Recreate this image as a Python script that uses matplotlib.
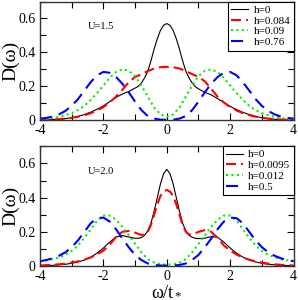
import matplotlib
matplotlib.use("Agg")
import matplotlib.pyplot as plt
import numpy as np
from matplotlib.ticker import MultipleLocator

plt.rcParams['font.family'] = ['Liberation Serif', 'DejaVu Serif']
plt.rcParams['mathtext.fontset'] = 'custom'
plt.rcParams['mathtext.rm'] = 'Liberation Serif'
plt.rcParams['mathtext.it'] = 'Liberation Serif'

# Data: omega grid from -4 to 4, step 0.2
omega = [-4.0, -3.8, -3.6, -3.4, -3.2, -3.0, -2.8, -2.6, -2.4, -2.2, -2.0,
         -1.8, -1.6, -1.4, -1.2, -1.0, -0.8, -0.6, -0.4, -0.2, 0.0,
         0.2, 0.4, 0.6, 0.8, 1.0, 1.2, 1.4, 1.6, 1.8, 2.0,
         2.2, 2.4, 2.6, 2.8, 3.0, 3.2, 3.4, 3.6, 3.8, 4.0]
# finer grid around the central peak (step 0.1 between -1 and 1)
omega_fine = [-4.0, -3.8, -3.6, -3.4, -3.2, -3.0, -2.8, -2.6, -2.4, -2.2, -2.0,
              -1.8, -1.6, -1.4, -1.2, -1.0, -0.9, -0.8, -0.7, -0.6, -0.5,
              -0.4, -0.3, -0.2, -0.1, 0.0, 0.1, 0.2, 0.3, 0.4, 0.5,
              0.6, 0.7, 0.8, 0.9, 1.0, 1.2, 1.4, 1.6, 1.8, 2.0,
              2.2, 2.4, 2.6, 2.8, 3.0, 3.2, 3.4, 3.6, 3.8, 4.0]

# U = 1.5
top_labels = ["h=0", "h=0.084", "h=0.09", "h=0.76"]
top_h0 = [0.001, 0.002, 0.004, 0.006, 0.010, 0.015, 0.023, 0.034, 0.048, 0.065, 0.085,
          0.110, 0.135, 0.155, 0.170, 0.190, 0.200, 0.220, 0.250, 0.290, 0.350,
          0.420, 0.480, 0.530, 0.560, 0.570, 0.560, 0.530, 0.480, 0.420, 0.350,
          0.290, 0.250, 0.220, 0.198, 0.185, 0.165, 0.150, 0.128, 0.105, 0.082,
          0.063, 0.047, 0.034, 0.023, 0.015, 0.010, 0.006, 0.004, 0.002, 0.001]
top_h084 = [0.002, 0.003, 0.005, 0.007, 0.010, 0.015, 0.021, 0.030, 0.042, 0.058, 0.078,
            0.105, 0.140, 0.180, 0.225, 0.255, 0.272, 0.290, 0.305, 0.313, 0.315,
            0.313, 0.305, 0.290, 0.272, 0.255, 0.230, 0.185, 0.140, 0.105, 0.078,
            0.058, 0.042, 0.030, 0.021, 0.015, 0.010, 0.007, 0.005, 0.003, 0.002]
top_h09 = [0.006, 0.009, 0.014, 0.020, 0.030, 0.042, 0.060, 0.085, 0.120, 0.160, 0.205,
           0.250, 0.285, 0.300, 0.292, 0.260, 0.205, 0.140, 0.075, 0.035, 0.020,
           0.035, 0.075, 0.140, 0.205, 0.260, 0.292, 0.300, 0.285, 0.250, 0.205,
           0.160, 0.120, 0.085, 0.060, 0.042, 0.030, 0.020, 0.014, 0.009, 0.006]
top_h76 = [0.010, 0.014, 0.022, 0.035, 0.055, 0.085, 0.125, 0.175, 0.225, 0.265, 0.285,
           0.280, 0.255, 0.215, 0.165, 0.110, 0.060, 0.025, 0.010, 0.004, 0.003,
           0.004, 0.010, 0.025, 0.060, 0.110, 0.165, 0.215, 0.255, 0.280, 0.285,
           0.265, 0.225, 0.175, 0.125, 0.085, 0.055, 0.035, 0.022, 0.014, 0.010]

# U = 2.0
bot_labels = ["h=0", "h=0.0095", "h=0.012", "h=0.5"]
bot_h0 = [0.002, 0.003, 0.004, 0.007, 0.010, 0.016, 0.024, 0.035, 0.052, 0.075, 0.105,
          0.140, 0.170, 0.178, 0.170, 0.162, 0.162, 0.166, 0.180, 0.205, 0.250,
          0.320, 0.400, 0.480, 0.540, 0.565, 0.540, 0.480, 0.400, 0.320, 0.250,
          0.205, 0.180, 0.168, 0.162, 0.160, 0.163, 0.172, 0.168, 0.140, 0.105,
          0.075, 0.052, 0.035, 0.024, 0.016, 0.010, 0.007, 0.004, 0.003, 0.002]
bot_h0095 = [0.003, 0.005, 0.007, 0.010, 0.014, 0.020, 0.027, 0.037, 0.050, 0.067, 0.090,
             0.125, 0.170, 0.200, 0.205, 0.195, 0.188, 0.182, 0.184, 0.200, 0.240,
             0.300, 0.360, 0.410, 0.435, 0.445, 0.435, 0.410, 0.360, 0.300, 0.240,
             0.200, 0.185, 0.185, 0.192, 0.200, 0.210, 0.200, 0.165, 0.120, 0.090,
             0.067, 0.050, 0.037, 0.027, 0.020, 0.014, 0.010, 0.007, 0.005, 0.003]
bot_h012 = [0.028, 0.033, 0.040, 0.050, 0.065, 0.088, 0.120, 0.165, 0.215, 0.265, 0.295,
            0.295, 0.270, 0.230, 0.180, 0.130, 0.080, 0.040, 0.020, 0.010, 0.008,
            0.010, 0.020, 0.040, 0.080, 0.130, 0.180, 0.230, 0.270, 0.295, 0.295,
            0.265, 0.215, 0.165, 0.120, 0.088, 0.065, 0.050, 0.040, 0.033, 0.028]
bot_h5 = [0.028, 0.035, 0.045, 0.060, 0.080, 0.110, 0.150, 0.200, 0.250, 0.280, 0.283,
          0.260, 0.215, 0.160, 0.110, 0.065, 0.035, 0.015, 0.006, 0.003, 0.002,
          0.003, 0.006, 0.015, 0.035, 0.065, 0.110, 0.160, 0.215, 0.260, 0.283,
          0.280, 0.250, 0.200, 0.150, 0.110, 0.080, 0.060, 0.045, 0.035, 0.028]

# line styles: solid black, red dashed, green dotted, blue long dashes
styles = [
    dict(color='black', lw=0.8, linestyle='-'),
    dict(color='#ff0000', lw=1.5, linestyle=(0, (4.8, 2.4))),
    dict(color='#00ee00', lw=1.5, linestyle=(0, (1.0, 1.6))),
    dict(color='#0000ff', lw=1.5, linestyle=(0, (5.8, 3.4))),
]


def style_axes(ax):
    ax.set_xlim(-4, 4)
    ax.set_ylim(0, 0.7)
    ax.xaxis.set_major_locator(MultipleLocator(2))
    ax.xaxis.set_minor_locator(MultipleLocator(1))
    ax.yaxis.set_major_locator(MultipleLocator(0.2))
    ax.yaxis.set_minor_locator(MultipleLocator(0.1))
    ax.set_xticks([-4, -2, 0, 2, 4])
    ax.set_xticklabels(["-4", "-2", "0", "2", "4"])
    ax.set_yticks([0, 0.2, 0.4, 0.6])
    ax.set_yticklabels(["0", "0.2", "0.4", "0.6"])
    ax.tick_params(which='both', direction='in', top=True, right=True,
                   labelsize=10, pad=3, width=0.8)
    ax.tick_params(which='major', length=5)
    ax.tick_params(which='minor', length=4)
    for s in ax.spines.values():
        s.set_linewidth(1.0)
        s.set_color('#333333')
    ax.set_ylabel("D(ω)", fontsize=14)
    ax.yaxis.set_label_coords(-0.08, 0.5)


fig = plt.figure(figsize=(2.98, 3.0), dpi=100)
ax1 = fig.add_axes([0.1342, 0.599, 0.851, 0.396])
ax2 = fig.add_axes([0.1342, 0.1133, 0.851, 0.399])

top_x = [omega_fine, omega, omega, omega]
for x, series, lab, st in zip(top_x, [top_h0, top_h084, top_h09, top_h76], top_labels, styles):
    ax1.plot(x, series, label=lab, **st)
bot_x = [omega_fine, omega_fine, omega, omega]
for x, series, lab, st in zip(bot_x, [bot_h0, bot_h0095, bot_h012, bot_h5], bot_labels, styles):
    ax2.plot(x, series, label=lab, **st)

for ax, u in [(ax1, "U=1.5"), (ax2, "U=2.0")]:
    style_axes(ax)
    ax.text(-2.5, 0.555, u, fontsize=7.5, va='center', ha='left')
    leg = ax.legend(loc='upper right', fontsize=8, borderaxespad=0,
                    fancybox=False, framealpha=1, edgecolor='black',
                    handlelength=1.5, handletextpad=0.5, labelspacing=0.1,
                    borderpad=0.3)
    leg.get_frame().set_linewidth(0.8)

ax2.set_xlabel(r"$\mathrm{\omega/t_*}$", fontsize=13)
ax2.xaxis.set_label_coords(0.5, -0.14)

fig.savefig("out.png", dpi=100)
